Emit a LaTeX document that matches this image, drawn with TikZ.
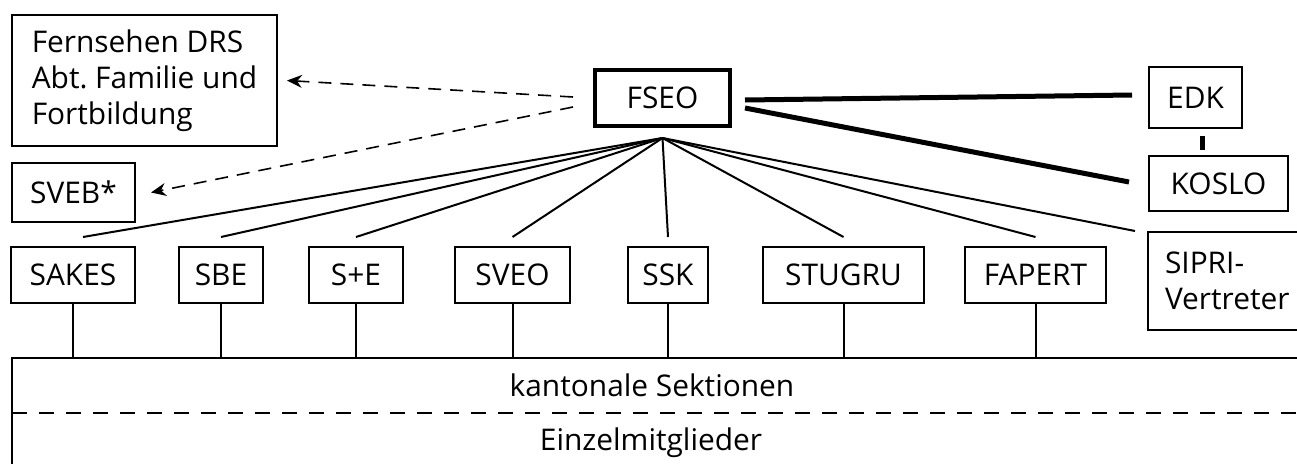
\documentclass[tikz,border=0pt]{standalone}
\usepackage{fontspec}
\setmainfont{Open Sans}
\usetikzlibrary{arrows.meta}
\newdimen\px
\px=0.02cm

\begin{document}
\begin{tikzpicture}[x=0.02cm,y=-0.02cm,
  font=\fontsize{17}{20.5}\selectfont,
  box/.style={draw,line width=2\px,inner sep=0pt,minimum height=56\px},
  link/.style={line width=2\px},
  strong/.style={line width=5\px},
  dashline/.style={line width=1.6\px,dash pattern=on 13\px off 9\px,
    -{Stealth[length=0.3cm,width=0.26cm]}}]

\useasboundingbox (0,0) rectangle (1297,463);
\clip (0,0) rectangle (1297,463);


\node[box,minimum width=265\px,minimum height=131\px,align=left] (drs) at (144.5,80.5) {Fernsehen DRS\\Abt.\ Familie und\\Fortbildung};

\node[box,minimum width=123\px,minimum height=59\px] (sveb) at (73.5,192.5) {SVEB*};

\node[box,line width=4\px,minimum width=135\px] (fseo) at (662.5,98) {FSEO};

\node[box,minimum width=93\px,minimum height=61\px] (edk) at (1195.5,97.5) {EDK};
\node[box,minimum width=139\px,minimum height=55\px] (koslo) at (1218.5,183.5) {KOSLO};
\node[box,minimum width=162\px,minimum height=98\px,align=left,text width=128\px] (sipri) at (1229,281) {SIPRI-\\Vertreter};


% Fachverbaende
\node[box,minimum width=124\px] (sakes) at (73,275) {SAKES};
\node[box,minimum width=84\px] (sbe) at (221,275) {SBE};
\node[box,minimum width=94\px] (spe) at (356,275) {S+E};
\node[box,minimum width=115\px] (sveo) at (512.5,275) {SVEO};
\node[box,minimum width=80\px] (ssk) at (668,275) {SSK};
\node[box,minimum width=161\px] (stugru) at (843.5,275) {STUGRU};
\node[box,minimum width=141\px] (fapert) at (1035.5,275) {FAPERT};


\coordinate (bartop) at (12,358);
\draw[link] (12,480) -- (bartop) -- (1310,358);
\draw[link,dash pattern=on 15\px off 12\px] (12,413) -- (1310,413);

\node[anchor=base] (kant) at (652,396) {kantonale Sektionen};
\node[anchor=base] (einzel) at (651,450) {Einzelmitglieder};


\coordinate (fan) at ([yshift=-10\px]fseo.south);

\foreach \b in {sbe,spe,sveo,ssk,stugru,fapert}
  \draw[link] (fan) -- ([yshift=9\px]\b.north);
\draw[link] (fan) -- ([xshift=10\px,yshift=9\px]sakes.north);
\draw[link] (fan) -- ([xshift=-12\px]sipri.north west);

\foreach \b in {sakes,sbe,spe,sveo,ssk,stugru,fapert}
  \draw[link] (\b.south) -- (\b.south |- bartop);


\draw[strong] ([xshift=13\px,yshift=-2\px]fseo.east) -- ([xshift=-16\px,yshift=2.5\px]edk.west);
\draw[strong] ([xshift=13\px,yshift=-10\px]fseo.east) -- ([xshift=-19\px,yshift=1.5\px]koslo.west);

\coordinate (edklink) at ([xshift=7\px]edk.south);
\draw[strong] (edklink) ++(0,7) -- ++(0,14);


\draw[dashline] ([xshift=-20\px,yshift=1\px]fseo.west) -- ([xshift=9\px]drs.east);
\draw[dashline] ([xshift=-20\px,yshift=-9\px]fseo.west) -- ([xshift=15\px]sveb.east);

\end{tikzpicture}
\end{document}
